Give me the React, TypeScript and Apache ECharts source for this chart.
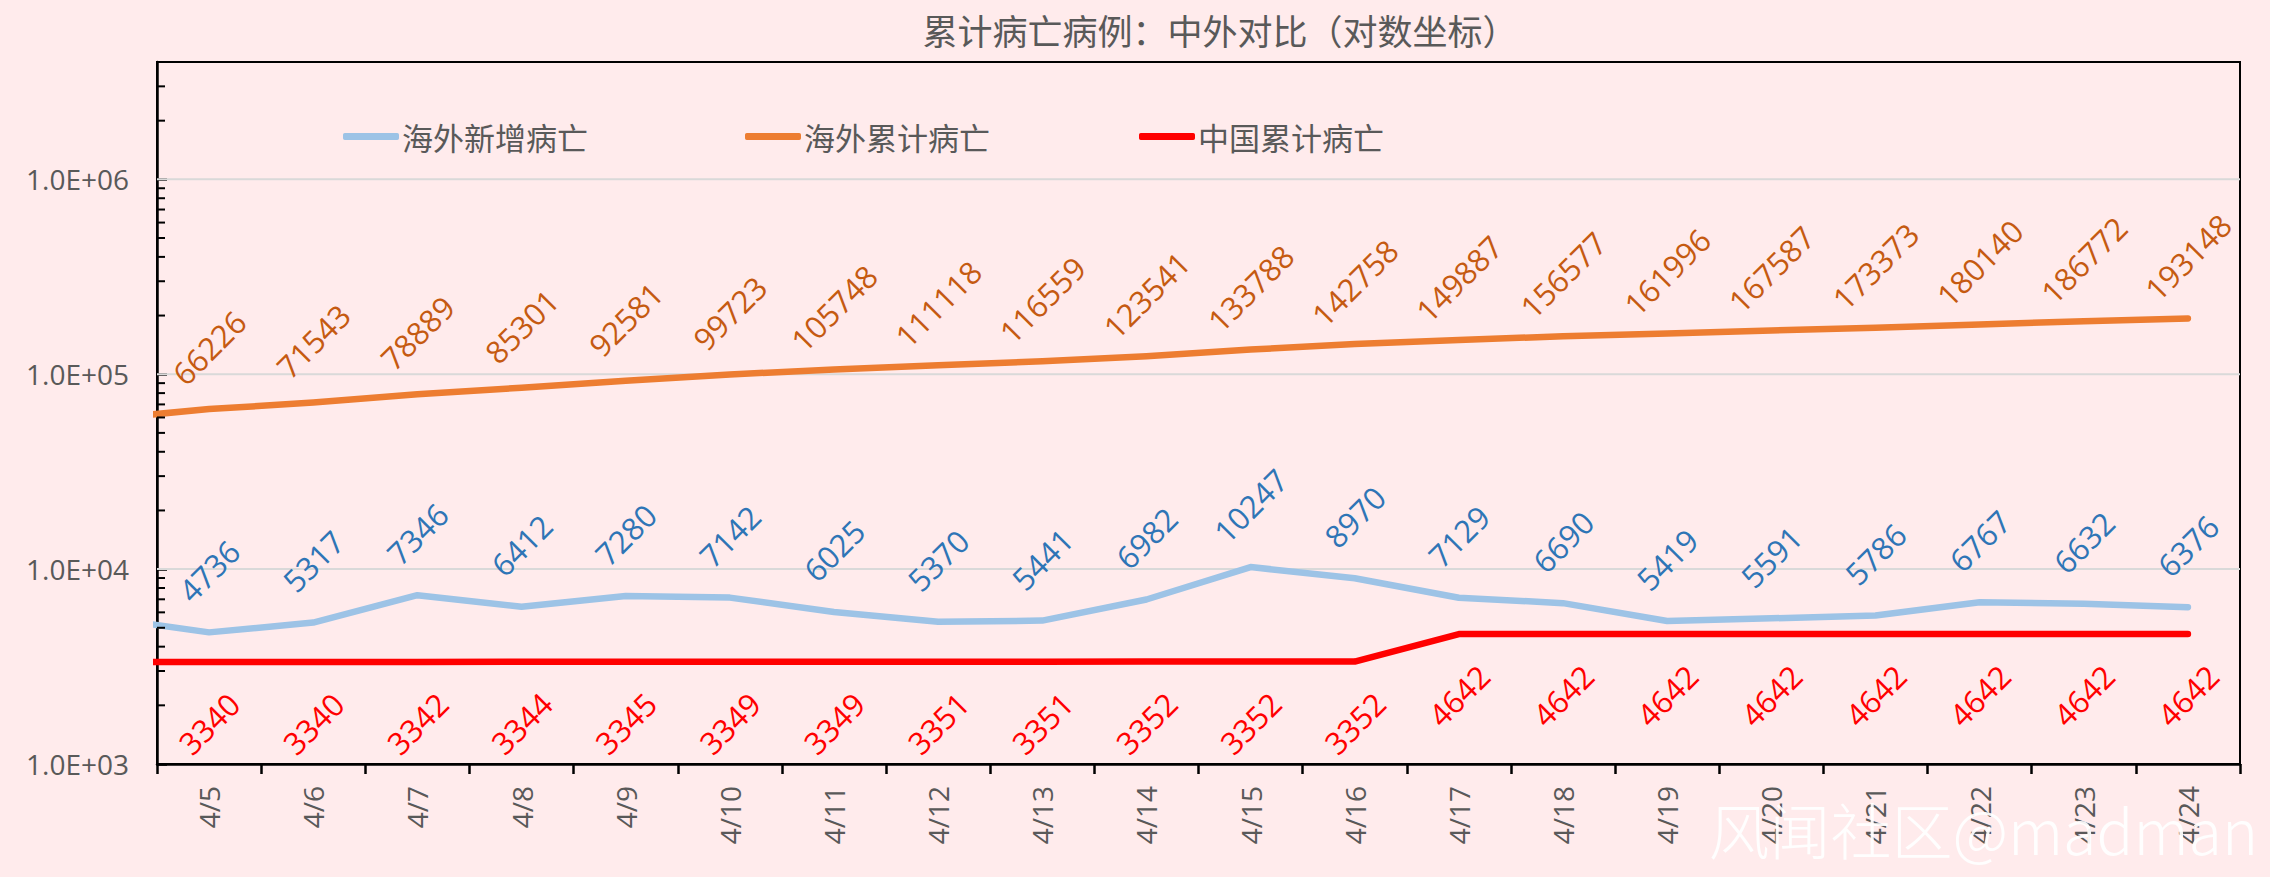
import React, { useEffect, useRef } from "react";
import * as echarts from "echarts";

const categories = ["4/5","4/6","4/7","4/8","4/9","4/10","4/11","4/12","4/13","4/14","4/15","4/16","4/17","4/18","4/19","4/20","4/21","4/22","4/23","4/24"];
const overseasNew = [4736,5317,7346,6412,7280,7142,6025,5370,5441,6982,10247,8970,7129,6690,5419,5591,5786,6767,6632,6376];
const overseasCum = [66226,71543,78889,85301,92581,99723,105748,111118,116559,123541,133788,142758,149887,156577,161996,167587,173373,180140,186772,193148];
const chinaCum = [3340,3340,3342,3344,3345,3349,3349,3351,3351,3352,3352,3352,4642,4642,4642,4642,4642,4642,4642,4642];
// values of the preceding day (4/4), only visible as the clipped start of each line
const leadNew = 5640;
const leadCum = 59000;
const leadChina = 3339;

const decades = [1000, 10000, 100000, 1000000];
const multipliers = [2, 3, 4, 5, 6, 7, 8, 9];
const yMin = 1000;
const yMax = 4000000;

const NUM_FONT = "Open Sans";
const CJK_FONT = "Noto Sans CJK SC";

function buildSeriesData(lead: number, vals: number[]) {
  const out: any[] = [{ value: [-1, lead], label: { show: false } }];
  vals.forEach((v, i) => out.push({ value: [i, v] }));
  return out;
}

function fmtSci(v: number) {
  const e = Math.floor(Math.log10(v) + 1e-9);
  const m = v / Math.pow(10, e);
  return m.toFixed(1) + "E+" + String(e).padStart(2, "0");
}

export default function App() {
  const ref = useRef<HTMLDivElement>(null);
  useEffect(() => {
    if (!ref.current) return;
    const chart = echarts.init(ref.current, undefined, { renderer: "svg" });
    const minorTicks: number[] = [];
    decades.forEach((d) => multipliers.forEach((m) => {
      const v = d * m;
      if (v <= yMax) minorTicks.push(v);
    }));
    const gridValues = decades.filter((d) => d > yMin);
    const xLo = -0.5;
    const xHi = categories.length - 0.5;

    const lineSeries = (name: string, lead: number, vals: number[], lineColor: string, labelColor: string, pos: "top" | "bottom") => ({
      name,
      type: "line",
      xAxisIndex: 1,
      yAxisIndex: 0,
      data: buildSeriesData(lead, vals),
      clip: true,
      symbol: "circle",
      symbolSize: 1,
      showSymbol: true,
      itemStyle: { color: lineColor },
      lineStyle: { color: lineColor, width: 6.5, cap: "round", join: "round" },
      label: {
        show: true,
        position: pos,
        distance: 61,
        rotate: 45,
        align: "center",
        verticalAlign: "middle",
        color: labelColor,
        fontFamily: NUM_FONT,
        fontSize: 31,
        formatter: (p: any) => String(p.value[1]),
      },
      z: 3,
    });

    chart.setOption({
      animation: false,
      backgroundColor: "#FFEBEC",
      title: {
        text: "累计病亡病例：中外对比（对数坐标）",
        left: 1215,
        top: 7,
        textAlign: "center",
        textStyle: { color: "#595959", fontSize: 35, fontWeight: "normal", fontFamily: CJK_FONT },
      },
      legend: [
        { data: ["海外新增病亡"], left: 338, top: 116 },
        { data: ["海外累计病亡"], left: 740, top: 116 },
        { data: ["中国累计病亡"], left: 1134, top: 116 },
      ].map((l) => ({
        ...l,
        icon: "roundRect",
        itemWidth: 56,
        itemHeight: 7,
        itemGap: 0,
        textStyle: { color: "#595959", fontSize: 31, fontFamily: CJK_FONT, padding: [0, 0, 0, -2] },
      })),
      grid: {
        left: 157,
        right: 30,
        top: 62,
        bottom: 113,
        show: true,
        borderColor: "#000",
        borderWidth: 2,
        backgroundColor: "transparent",
      },
      xAxis: [
        {
          type: "category",
          data: categories,
          boundaryGap: true,
          axisLine: { lineStyle: { color: "#000", width: 2.5 } },
          axisTick: { show: true, inside: false, length: 10, lineStyle: { color: "#000", width: 2.5 } },
          axisLabel: { rotate: 90, margin: 22, color: "#595959", fontSize: 28, fontFamily: NUM_FONT, interval: 0 },
          splitLine: { show: false },
        },
        {
          type: "value",
          min: xLo,
          max: xHi,
          show: false,
          splitLine: { show: false },
        },
      ],
      yAxis: {
        type: "log",
        logBase: 10,
        min: yMin,
        max: yMax,
        axisLine: { show: true, onZero: false, lineStyle: { color: "#000", width: 2.5 } },
        axisTick: { show: true, inside: true, length: 10, lineStyle: { color: "#000", width: 2.5 } },
        axisLabel: {
          margin: 28,
          color: "#595959",
          fontSize: 28,
          fontFamily: NUM_FONT,
          showMaxLabel: false,
          formatter: (v: number) => fmtSci(v),
        },
        splitLine: { show: false },
      },
      series: [
        {
          name: "gridLines",
          type: "custom",
          xAxisIndex: 1,
          yAxisIndex: 0,
          silent: true,
          clip: false,
          data: gridValues.map((v) => [xLo, v]),
          renderItem: (params: any, api: any) => {
            const a = api.coord([xLo, api.value(1)]);
            const b = api.coord([xHi, api.value(1)]);
            return {
              type: "line",
              shape: { x1: a[0], y1: a[1], x2: b[0], y2: b[1] },
              style: { stroke: "#D9D9D9", lineWidth: 2 },
            };
          },
          z: 1,
        },
        lineSeries("海外新增病亡", leadNew, overseasNew, "#9DC3E6", "#2E75B6", "top"),
        lineSeries("海外累计病亡", leadCum, overseasCum, "#ED7D31", "#C55A11", "top"),
        lineSeries("中国累计病亡", leadChina, chinaCum, "#FF0000", "#FF0000", "bottom"),
        {
          name: "minorTicks",
          type: "custom",
          xAxisIndex: 1,
          yAxisIndex: 0,
          silent: true,
          clip: false,
          data: minorTicks.map((v) => [xLo, v]),
          renderItem: (params: any, api: any) => {
            const p = api.coord([api.value(0), api.value(1)]);
            return {
              type: "line",
              shape: { x1: p[0], y1: p[1], x2: p[0] + 8, y2: p[1] },
              style: { stroke: "#000", lineWidth: 2 },
            };
          },
          z: 5,
        },
      ],
      graphic: [
        {
          type: "text",
          right: 12,
          bottom: 18,
          z: 100,
          style: {
            text: "风闻社区@madman",
            fill: "rgba(255,255,255,0.93)",
            fontSize: 61,
            fontWeight: 300,
            fontFamily: CJK_FONT,
          },
        },
      ],
    });
    return () => chart.dispose();
  }, []);
  return (
    <div
      ref={ref}
      style={{ position: "fixed", left: 0, top: 0, width: "2270px", height: "877px", background: "#FFEBEC" }}
    />
  );
}
